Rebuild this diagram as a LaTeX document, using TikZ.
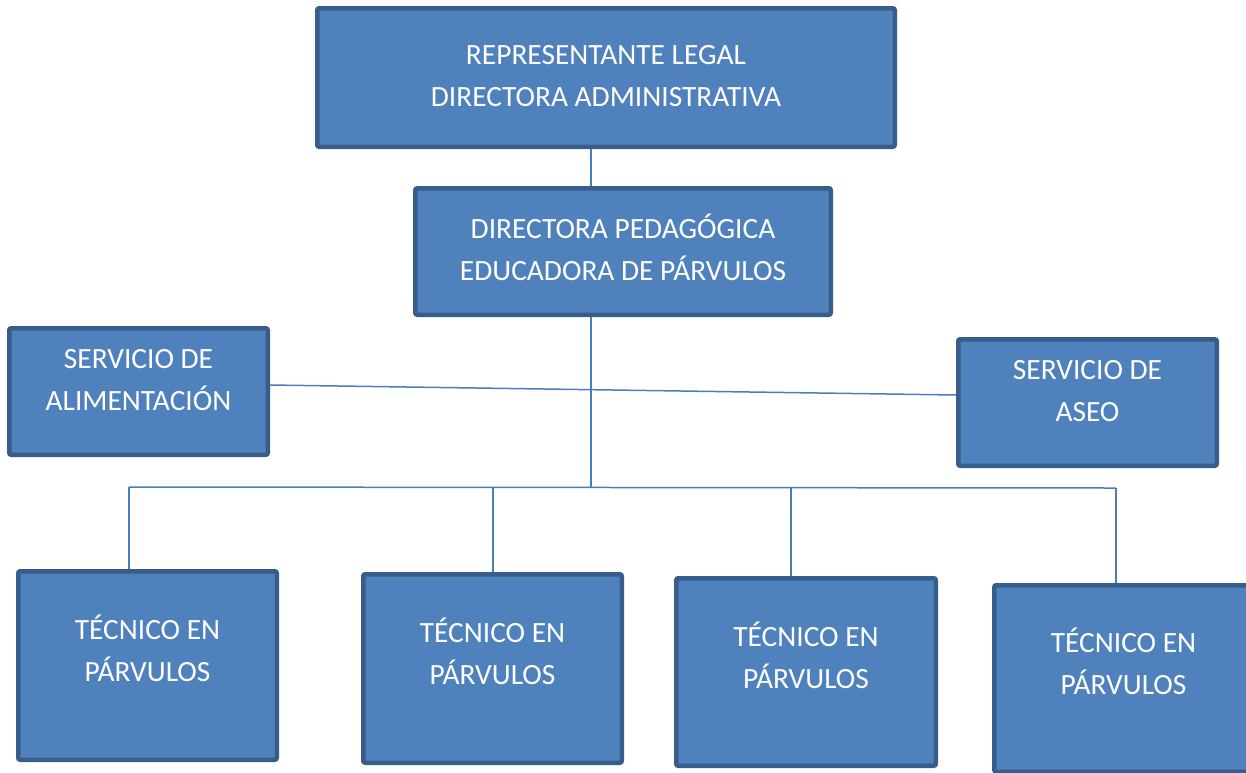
\documentclass[tikz,border=0pt]{standalone}
\usepackage{fontspec}
\setmainfont{Carlito}
\definecolor{boxfill}{RGB}{79,129,189}
\definecolor{boxborder}{RGB}{56,93,138}
\definecolor{linkcol}{RGB}{74,126,187}
\newcommand{\lnstrut}{\rule[-0.25em]{0pt}{1.15em}}
\tikzset{
  box/.style={draw=boxborder, fill=boxfill, line width=4.5pt, rounded corners=2pt,
    inner sep=0pt, outer sep=0pt, rectangle},
  label text/.style={text=white, align=center, inner sep=0pt,
    font=\fontsize{29.4}{42}\selectfont},
  link/.style={draw=linkcol, line width=1.5pt}
}
\begin{document}
\begin{tikzpicture}[x=1pt, y=-1pt]
\useasboundingbox (0,0) rectangle (1246,772);
\clip (0,0) rectangle (1246,772);
% boxes
\node[box, minimum width=577.5pt, minimum height=138.5pt] (rep) at (606,77.5) {};
\node[box, minimum width=415.5pt, minimum height=126.5pt] (dp) at (623,251.5) {};
\node[box, minimum width=258.5pt, minimum height=126.5pt] (al) at (138.5,391.5) {};
\node[box, minimum width=258.5pt, minimum height=126.5pt] (as) at (1087.5,402.5) {};
\node[box, minimum width=258.5pt, minimum height=188.5pt] (t1) at (147.5,665.5) {};
\node[box, minimum width=258.5pt, minimum height=188.5pt] (t2) at (492.5,668.5) {};
\node[box, minimum width=259.5pt, minimum height=187.5pt] (t3) at (806,672) {};
\node[box, minimum width=258.5pt, minimum height=186.5pt] (t4) at (1123.5,678.5) {};
% texts
\node[label text] (rept) at (606,76) {\lnstrut REPRESENTANTE LEGAL\\\lnstrut DIRECTORA ADMINISTRATIVA};
\node[label text] (dpt) at (623,250) {\lnstrut DIRECTORA PEDAGÓGICA\\\lnstrut EDUCADORA DE PÁRVULOS};
\node[label text] (alt) at (138.5,379.5) {\lnstrut SERVICIO DE\\\lnstrut ALIMENTACIÓN};
\node[label text] (ast) at (1087.5,391) {\lnstrut SERVICIO DE\\\lnstrut ASEO};
\node[label text] (t1t) at (147.5,651) {\lnstrut TÉCNICO EN\\\lnstrut PÁRVULOS};
\node[label text] (t2t) at (492.5,653.5) {\lnstrut TÉCNICO EN\\\lnstrut PÁRVULOS};
\node[label text] (t3t) at (806,658) {\lnstrut TÉCNICO EN\\\lnstrut PÁRVULOS};
\node[label text] (t4t) at (1123.5,664) {\lnstrut TÉCNICO EN\\\lnstrut PÁRVULOS};
% junction coordinates
\coordinate (j) at (591,487.5);
\coordinate (d1) at (129,487);
\coordinate (d2) at (493,487.5);
\coordinate (d3) at (791,487.5);
\coordinate (d4) at (1116,488);
% connectors
\draw[link] ([yshift=-2.25pt]rep.south -| j) -- ([yshift=2.25pt]dp.north -| j);
\draw[link] ([yshift=-2.25pt]dp.south -| j) -- (j);
\draw[link] ([xshift=2.25pt,yshift=6.5pt]al.east) -- ([xshift=-2.25pt,yshift=7.5pt]as.west);
\draw[link] (d1) -- (d4);
\draw[link] (d1) -- ([yshift=2.25pt]d1 |- t1.north);
\draw[link] (d2) -- ([yshift=2.25pt]d2 |- t2.north);
\draw[link] (d3) -- ([yshift=2.25pt]d3 |- t3.north);
\draw[link] (d4) -- ([yshift=2.25pt]d4 |- t4.north);
\end{tikzpicture}
\end{document}
